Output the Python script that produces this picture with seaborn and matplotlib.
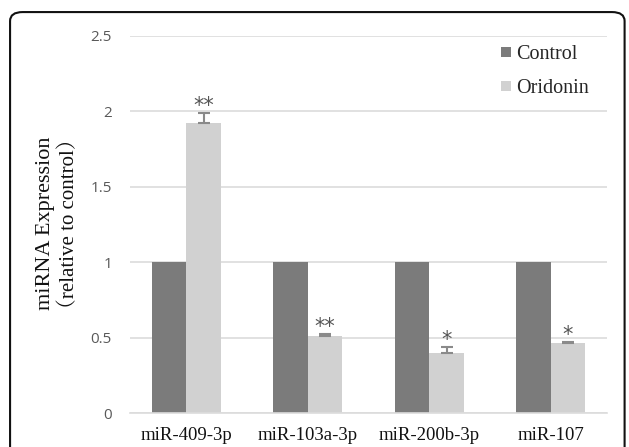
import matplotlib
matplotlib.use("Agg")
import matplotlib.pyplot as plt
from matplotlib.patches import FancyBboxPatch
from matplotlib.lines import Line2D
import numpy as np
import pandas as pd
import seaborn as sns

# values
mirnas = ["miR-409-3p", "miR-103a-3p", "miR-200b-3p", "miR-107"]
groups = ["Control", "Oridonin"]
control_vals = [1.0, 1.0, 1.0, 1.0]
oridonin_vals = [1.92, 0.513, 0.397, 0.463]
oridonin_err = [0.07, 0.01, 0.04, 0.008]
stars = ["**", "**", "*", "*"]

colors = {"Control": "#7b7b7b", "Oridonin": "#d1d1d1"}

df = pd.DataFrame({
    "miRNA": mirnas * 2,
    "group": ["Control"] * 4 + ["Oridonin"] * 4,
    "value": control_vals + oridonin_vals,
})

sns.set_style("white")
serif = ["Liberation Serif", "Noto Serif CJK SC", "Noto Sans CJK SC"]

fig = plt.figure(figsize=(6.29, 4.47), dpi=100)
ax = fig.add_axes([0.2067, 0.076, 0.7583, 0.8435])

sns.barplot(data=df, x="miRNA", y="value", hue="group", order=mirnas,
            hue_order=groups, palette=colors, width=0.57, errorbar=None,
            saturation=1, ax=ax, legend=False, linewidth=0)

# error bars (plus only) and significance marks on Oridonin bars
ori_bars = ax.patches[4:8]
for bar, v, e, s in zip(ori_bars, oridonin_vals, oridonin_err, stars):
    cx = bar.get_x() + bar.get_width() / 2
    ax.errorbar(cx, v, yerr=[[0], [e]], fmt="none", ecolor="#8a8a8a",
                elinewidth=1.5, capsize=4, capthick=1.5, zorder=3)
    ax.annotate(s, (cx, v + e), xytext=(0, -2), textcoords="offset points",
                ha="center", va="bottom", fontsize=15, color="#555555",
                family="DejaVu Sans")

ax.set_ylim(0, 2.5)
ax.set_yticks([0, 0.5, 1, 1.5, 2, 2.5])
ax.set_yticklabels(["0", "0.5", "1", "1.5", "2", "2.5"])
ax.grid(axis="y", color="#dcdcdc", linewidth=1.2)
ax.set_axisbelow(True)
for side in ["left", "right", "top"]:
    ax.spines[side].set_visible(False)
ax.spines["bottom"].set_color("#dcdcdc")
ax.spines["bottom"].set_linewidth(1.2)
ax.tick_params(axis="y", length=0, pad=13, labelsize=11, labelcolor="#595959")
ax.tick_params(axis="x", length=0, pad=10, labelsize=13.5, labelcolor="#111111")
for lbl in ax.get_yticklabels():
    lbl.set_family("Open Sans")
for lbl in ax.get_xticklabels():
    lbl.set_family(serif)
ax.set_xlabel("")
ax.set_ylabel("")

fig.text(0.072, 0.50, "miRNA Expression", rotation=90, ha="center",
         va="center", fontsize=16, family=serif, color="#111111")
fig.text(0.110, 0.50, "（relative to control）", rotation=90, ha="center",
         va="center", fontsize=15, family=serif, color="#111111")

handles = [Line2D([0], [0], marker="s", linestyle="none", markersize=7,
                  markerfacecolor=colors[g], markeredgewidth=0) for g in groups]
leg = ax.legend(handles, groups, loc="upper right", bbox_to_anchor=(1.0, 1.025),
                frameon=False, handletextpad=0.15, labelspacing=0.75,
                prop={"family": serif, "size": 14.5}, handlelength=0.7)

# rounded frame around the figure
frame = FancyBboxPatch((0.016, -0.05), 0.977, 1.023,
                       boxstyle="round,pad=0,rounding_size=0.02",
                       transform=fig.transFigure, fill=False,
                       edgecolor="#111111", linewidth=1.5, clip_on=False)
fig.patches.append(frame)

fig.savefig("out.png", dpi=100)
